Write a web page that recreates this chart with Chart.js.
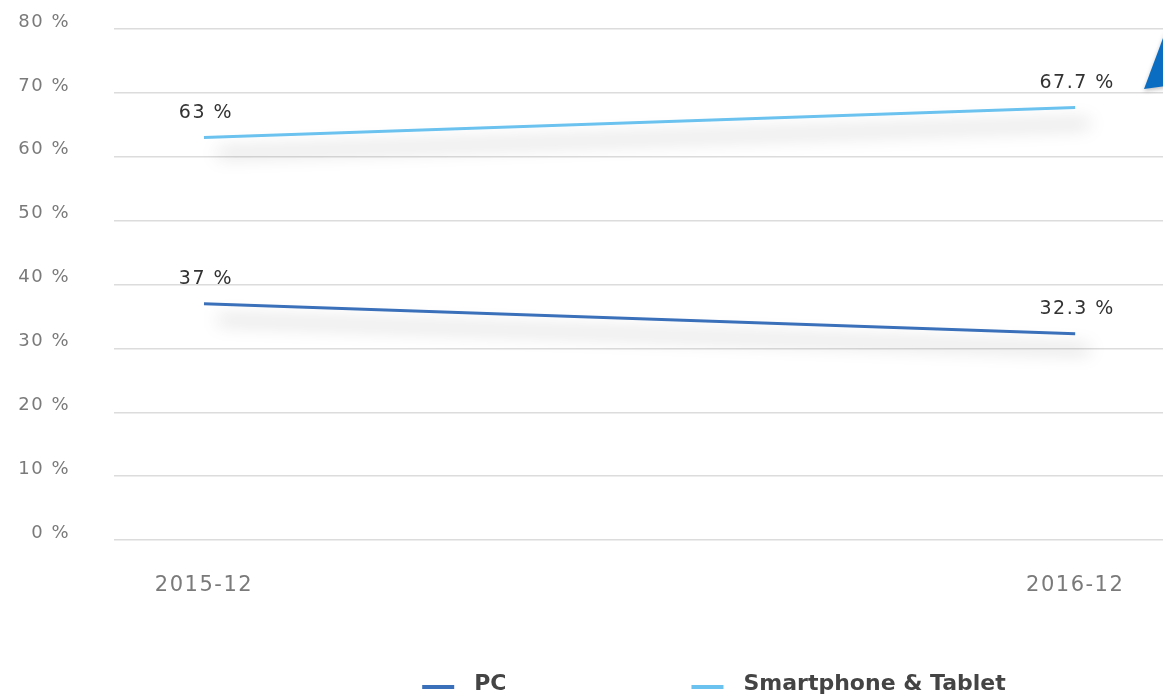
<!DOCTYPE html>
<html>
    <head>
        <title></title>
        <script src="https://cdn.jsdelivr.net/npm/chart.js@4.4.1/dist/chart.umd.min.js"></script>
        <style>
            html, body { margin: 0; padding: 0; overflow: hidden; background: #fff; }
            #wrap { position: relative; width: 1428px; height: 697px; }
        </style>
        <script>
            const categories = ['2015-12', '2016-12'];
            const pcShare = [37, 32.3];
            const mobileShare = [63, 67.7];
            const yTicks = [0, 10, 20, 30, 40, 50, 60, 70, 80];

            const FONT = '"DejaVu Sans"';

            function pct(v)
            {
                return v + ' %';
            }

            // widen glyph spacing a bit on every text run
            const spacing = {
                id: 'spacing',
                beforeLayout(chart) { chart.ctx.letterSpacing = '1.5px'; },
                beforeDraw(chart) { chart.ctx.letterSpacing = '1.5px'; }
            };

            // soft drop shadow under each line
            const lineShadow = {
                id: 'lineShadow',
                beforeDatasetDraw(chart) {
                    const ctx = chart.ctx;
                    ctx.save();
                    ctx.shadowColor = 'rgba(0, 0, 0, 0.4)';
                    ctx.shadowBlur = 18;
                    ctx.shadowOffsetX = 14;
                    ctx.shadowOffsetY = 16;
                },
                afterDatasetDraw(chart) {
                    chart.ctx.restore();
                }
            };

            // value labels above each point
            const valueLabels = {
                id: 'valueLabels',
                afterDatasetsDraw(chart) {
                    const ctx = chart.ctx;
                    ctx.save();
                    ctx.font = '19px ' + FONT;
                    ctx.fillStyle = '#333';
                    ctx.textAlign = 'center';
                    ctx.textBaseline = 'bottom';
                    chart.data.datasets.forEach((ds, i) => {
                        chart.getDatasetMeta(i).data.forEach((pt, j) => {
                            ctx.fillText(pct(ds.data[j].y), pt.x + 2, pt.y - 15);
                        });
                    });
                    ctx.restore();
                }
            };

            // legend row at the bottom: short line swatch + bold label
            const bottomLegend = {
                id: 'bottomLegend',
                afterDraw(chart) {
                    const ctx = chart.ctx;
                    const y = 684;
                    const swatch = 32, textGap = 20, itemGap = 185;
                    ctx.save();
                    ctx.font = 'bold 22px ' + FONT;
                    ctx.letterSpacing = '0px';
                    const items = chart.data.datasets.map(ds => ({
                        text: ds.label, color: ds.borderColor, w: ctx.measureText(ds.label).width
                    }));
                    let total = 0;
                    items.forEach((it, i) => { total += swatch + textGap + it.w + (i ? itemGap : 0); });
                    let x = chart.width / 2 - total / 2;
                    ctx.textBaseline = 'middle';
                    ctx.textAlign = 'left';
                    items.forEach(it => {
                        ctx.fillStyle = it.color;
                        ctx.fillRect(x, y + 1, swatch, 4);
                        ctx.fillStyle = '#444';
                        ctx.fillText(it.text, x + swatch + textGap, y);
                        x += swatch + textGap + it.w + itemGap;
                    });
                    ctx.restore();
                }
            };

            // blue corner marker at top right
            const cornerMark = {
                id: 'cornerMark',
                afterDraw(chart) {
                    const ctx = chart.ctx;
                    ctx.save();
                    ctx.shadowColor = 'rgba(0, 0, 0, 0.25)';
                    ctx.shadowBlur = 4;
                    ctx.shadowOffsetY = 2;
                    ctx.fillStyle = '#0b6dc2';
                    ctx.beginPath();
                    ctx.moveTo(1144, 89);
                    ctx.lineTo(1166, 30);
                    ctx.lineTo(1166, 86);
                    ctx.closePath();
                    ctx.fill();
                    ctx.restore();
                }
            };

            function loaded()
            {
                const toPoints = arr => arr.map((v, i) => ({ x: i, y: v }));
                const ctx = document.getElementById('chart');
                new Chart(ctx, {
                    type: 'line',
                    data: {
                        datasets: [{
                            label: 'PC',
                            data: toPoints(pcShare),
                            borderColor: '#3a70b9',
                            backgroundColor: '#3a70b9',
                            borderWidth: 3,
                            pointRadius: 0,
                            tension: 0
                        }, {
                            label: 'Smartphone & Tablet',
                            data: toPoints(mobileShare),
                            borderColor: '#6cc2ee',
                            backgroundColor: '#6cc2ee',
                            borderWidth: 3,
                            pointRadius: 0,
                            tension: 0
                        }]
                    },
                    options: {
                        responsive: false,
                        animation: false,
                        layout: { padding: { top: 29, left: 0, right: 0, bottom: 97 } },
                        scales: {
                            x: {
                                type: 'linear',
                                min: -0.1033,
                                max: 1.405,
                                border: { display: false },
                                grid: { display: false, drawTicks: false },
                                afterBuildTicks: axis => { axis.ticks = categories.map((c, i) => ({ value: i })); },
                                afterFit: axis => { axis.height = 60; },
                                ticks: {
                                    padding: 33,
                                    color: '#7a7a7a',
                                    font: { family: FONT, size: 21 },
                                    callback: v => categories[v]
                                }
                            },
                            y: {
                                min: 0,
                                max: 80,
                                border: { display: false },
                                grid: { color: '#dcdcdc', lineWidth: 1.5, drawTicks: false },
                                afterBuildTicks: axis => { axis.ticks = yTicks.map(v => ({ value: v })); },
                                afterFit: axis => {
                                    axis.width = 114;
                                    axis.paddingTop = 0;
                                    axis.paddingBottom = 0;
                                },
                                ticks: {
                                    padding: 44,
                                    labelOffset: -7,
                                    color: '#7a7a7a',
                                    font: { family: FONT, size: 18 },
                                    callback: v => pct(v)
                                }
                            }
                        },
                        plugins: {
                            tooltip: { enabled: false },
                            legend: { display: false }
                        }
                    },
                    plugins: [spacing, lineShadow, valueLabels, bottomLegend, cornerMark]
                });
            }

            window.addEventListener('load', loaded, true);
        </script>
    </head>
    <body>
        <div id="wrap">
            <canvas id="chart" width="1428" height="697"></canvas>
        </div>
    </body>
</html>
